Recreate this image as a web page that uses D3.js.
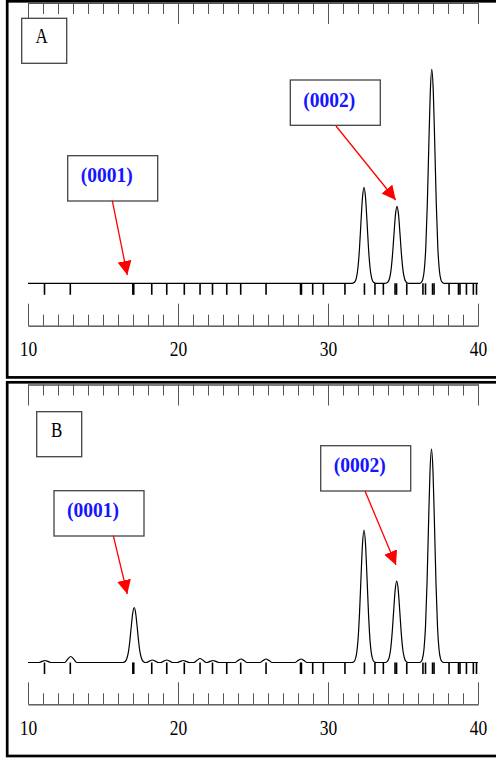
<!DOCTYPE html>
<html>
<head>
<meta charset="utf-8">
<script src="https://cdnjs.cloudflare.com/ajax/libs/d3/7.8.5/d3.min.js"></script>
<style>
body { margin: 0; background: #ffffff; }
svg { display: block; }
</style>
</head>
<body>
<div id="chart"></div>
<script>
// 2-theta range and labelled ticks
var thetaRange = [10, 40];
var tickLabels = [10, 20, 30, 40];

// reference stick pattern (2-theta, deg)
var refLines = [11.10, 12.82, 16.99, 17.05, 18.25, 19.25, 20.42, 21.47, 22.30, 23.25, 24.18,
    25.87, 28.17, 28.23, 28.98, 29.69, 31.13, 32.43, 33.13, 33.69, 34.47, 34.57, 35.25,
    36.33, 36.50, 36.97, 37.07, 38.07, 38.70, 38.80, 39.23, 39.69, 39.90];

// pattern A : [2theta, intensity a.u.]
var patternA = [
    [10, 0], [31.6, 0], [31.7, 0.4], [31.8, 1.7], [31.9, 6], [32.0, 16], [32.1, 35], [32.2, 62], [32.3, 86],
    [32.4, 96], [32.5, 86], [32.6, 62], [32.7, 35], [32.8, 16], [32.9, 6], [33.0, 1.7], [33.1, 0.4], [33.2, 0],
    [33.8, 0], [33.9, 0.3], [34.0, 1.4], [34.1, 4.8], [34.2, 13], [34.3, 28.4], [34.4, 49.4], [34.5, 68.9],
    [34.6, 77], [34.7, 68.9], [34.8, 49.4], [34.9, 28.4], [35.0, 13], [35.1, 4.8], [35.2, 1.4], [35.3, 0.3], [35.4, 0],
    [36.12, 0], [36.22, 0.9], [36.32, 3.9], [36.42, 13.5], [36.52, 36.2], [36.62, 79], [36.72, 137.4], [36.82, 191.5],
    [36.92, 214], [37.02, 191.5], [37.12, 137.4], [37.22, 79], [37.32, 36.2], [37.42, 13.5], [37.52, 3.9], [37.62, 0.9],
    [37.72, 0], [40, 0]
];

// pattern B
var patternB = [
    [10, 0], [10.73, 0], [10.93, 1.1], [11.13, 2], [11.33, 1.1], [11.53, 0],
    [12.45, 0], [12.65, 3.3], [12.85, 6], [13.05, 3.3], [13.25, 0],
    [16.28, 0], [16.38, 0.2], [16.48, 1], [16.58, 3.5], [16.68, 9.3], [16.78, 20.3], [16.88, 35.3], [16.98, 49.2],
    [17.08, 55], [17.18, 49.2], [17.28, 35.3], [17.38, 20.3], [17.48, 9.3], [17.58, 3.5], [17.68, 1], [17.78, 0.2],
    [17.89, 0], [18.09, 1.4], [18.29, 2.5], [18.49, 1.4], [18.69, 0],
    [18.85, 0], [19.05, 1.4], [19.25, 2.5], [19.45, 1.4], [19.65, 0],
    [19.95, 0], [20.15, 1.1], [20.35, 2], [20.55, 1.1], [20.75, 0],
    [21.07, 0], [21.27, 2.2], [21.47, 4], [21.67, 2.2], [21.87, 0],
    [21.93, 0], [22.13, 1.1], [22.33, 2], [22.53, 1.1], [22.73, 0],
    [23.8, 0], [24.0, 1.9], [24.2, 3.5], [24.4, 1.9], [24.6, 0],
    [25.47, 0], [25.67, 1.9], [25.87, 3.5], [26.07, 1.9], [26.27, 0],
    [27.8, 0], [28.0, 1.9], [28.2, 3.5], [28.4, 1.9], [28.6, 0],
    [31.6, 0], [31.7, 0.5], [31.8, 2.4], [31.9, 8.3], [32.0, 22.4], [32.1, 48.9], [32.2, 85.1], [32.3, 118.6],
    [32.4, 132.5], [32.5, 118.6], [32.6, 85.1], [32.7, 48.9], [32.8, 22.4], [32.9, 8.3], [33.0, 2.4], [33.1, 0.5], [33.2, 0],
    [33.78, 0], [33.88, 0.3], [33.98, 1.5], [34.08, 5.1], [34.18, 13.8], [34.28, 30.1], [34.38, 52.3], [34.48, 72.9],
    [34.58, 81.5], [34.68, 72.9], [34.78, 52.3], [34.88, 30.1], [34.98, 13.8], [35.08, 5.1], [35.18, 1.5], [35.28, 0.3], [35.38, 0],
    [36.10, 0], [36.20, 0.9], [36.30, 3.8], [36.40, 13.5], [36.50, 36.1], [36.60, 78.8], [36.70, 137.1], [36.80, 191.1],
    [36.90, 213.5], [37.00, 191.1], [37.10, 137.1], [37.20, 78.8], [37.30, 36.1], [37.40, 13.5], [37.50, 3.8], [37.60, 0.9],
    [37.70, 0], [40, 0]
];

var panelNames = ["A", "B"];
var peakLabels = ["(0001)", "(0002)"];

var width = 496, height = 758;
var serif = "'Liberation Serif', 'Times New Roman', serif";

var svg = d3.select("#chart")
    .append("svg")
    .attr("width", width)
    .attr("height", height)
    .attr("viewBox", "0 0 " + width + " " + height);

svg.append("defs").append("marker")
    .attr("id", "head")
    .attr("viewBox", "0 0 12 12")
    .attr("refX", 12)
    .attr("refY", 6)
    .attr("markerWidth", 14)
    .attr("markerHeight", 14)
    .attr("markerUnits", "userSpaceOnUse")
    .attr("orient", "auto")
    .append("path")
    .attr("d", "M0,0 L12,6 L0,12 Z")
    .attr("fill", "#ff0000");

var x = d3.scaleLinear().domain(thetaRange).range([28, 478]);

// layout of the two panels, in px
var layout = [
    { frameTop: 1.3, frameBottom: 377.4, axisTop: 3, base: 283.3, axisBottom: 325.7,
      letterBox: [21.7, 18.3], boxes: [[67.7, 155.7], [290.3, 80]],
      arrows: [[[112.3, 200.7], [127.3, 275]], [[336, 126], [395.7, 200]]] },
    { frameTop: 382.3, frameBottom: 756, axisTop: 384.5, base: 662.5, axisBottom: 704.3,
      letterBox: [36.7, 411.7], boxes: [[54, 490.7], [320.7, 445.7]],
      arrows: [[[113.3, 535.7], [127.3, 594]], [[365, 491], [396, 565]]] }
];

function drawPanel(i, pattern) {
    var L = layout[i];
    var g = svg.append("g").attr("class", "panel");

    var y = d3.scaleLinear().domain([0, 280]).range([L.base, L.base - 280]);

    // top axis: ticks hanging down
    g.append("g")
        .attr("transform", "translate(0," + L.axisTop + ")")
        .call(d3.axisBottom(x).ticks(30).tickSize(11).tickSizeOuter(0).tickFormat(""));
    g.append("g")
        .attr("transform", "translate(0," + L.axisTop + ")")
        .call(d3.axisBottom(x).tickValues(tickLabels).tickSize(21).tickSizeOuter(0).tickFormat(""));

    // bottom axis: ticks pointing up, labels below
    g.append("g")
        .attr("transform", "translate(0," + L.axisBottom + ")")
        .call(d3.axisBottom(x).ticks(30).tickSize(-11).tickSizeOuter(0).tickFormat(""));
    g.append("g")
        .attr("class", "labelled")
        .attr("transform", "translate(0," + L.axisBottom + ")")
        .call(d3.axisBottom(x).tickValues(tickLabels).tickSize(-22).tickSizeOuter(0)
            .tickFormat(d3.format("d")));

    g.selectAll(".domain, .tick line")
        .attr("stroke", "#555555")
        .attr("stroke-width", 1);
    g.selectAll(".labelled text")
        .attr("y", 0)
        .attr("dy", null)
        .attr("transform", "translate(0,30.5) scale(1,1.15)")
        .attr("font-family", serif)
        .attr("font-size", 17.5)
        .attr("fill", "#000000");

    // reference sticks
    g.selectAll(".ref")
        .data(refLines).enter().append("line")
        .attr("class", "ref")
        .attr("x1", function(d) { return x(d) })
        .attr("x2", function(d) { return x(d) })
        .attr("y1", y(0))
        .attr("y2", y(-11.5))
        .attr("stroke", "#000000")
        .attr("stroke-width", 1.6);

    var line = d3.line()
        .x(function(d) { return x(d[0]) })
        .y(function(d) { return y(d[1]) })
        .curve(d3.curveMonotoneX);

    g.append("path")
        .datum(pattern)
        .attr("d", line)
        .attr("fill", "none")
        .attr("stroke", "#000000")
        .attr("stroke-width", 1.2);

    // panel frame (right edge runs off the page)
    g.append("rect")
        .attr("x", 7.2)
        .attr("y", L.frameTop)
        .attr("width", 500)
        .attr("height", L.frameBottom - L.frameTop)
        .attr("fill", "none")
        .attr("stroke", "#000000")
        .attr("stroke-width", 2.7);

    // panel letter
    g.append("rect")
        .attr("x", L.letterBox[0]).attr("y", L.letterBox[1])
        .attr("width", 45).attr("height", 45)
        .attr("fill", "#ffffff")
        .attr("stroke", "#444444").attr("stroke-width", 1.3);
    g.append("text")
        .attr("transform", "translate(" + (L.letterBox[0] + 20) + "," + (L.letterBox[1] + 24.8) + ") scale(1,1.2)")
        .attr("text-anchor", "middle")
        .attr("font-family", serif)
        .attr("font-size", 17)
        .text(panelNames[i]);

    // peak annotations
    L.boxes.forEach(function(b, k) {
        g.append("rect")
            .attr("x", b[0]).attr("y", b[1])
            .attr("width", 90).attr("height", 45.3)
            .attr("fill", "#ffffff")
            .attr("stroke", "#444444").attr("stroke-width", 1.3);
        g.append("text")
            .attr("transform", "translate(" + (b[0] + 39) + "," + (b[1] + 26.5) + ") scale(1,1.08)")
            .attr("text-anchor", "middle")
            .attr("font-family", serif)
            .attr("font-weight", "bold")
            .attr("font-size", 19.5)
            .attr("fill", "#1515ff")
            .text(peakLabels[k]);

        var a = L.arrows[k];
        g.append("line")
            .attr("x1", a[0][0]).attr("y1", a[0][1])
            .attr("x2", a[1][0]).attr("y2", a[1][1])
            .attr("stroke", "#ff0000")
            .attr("stroke-width", 1.3)
            .attr("marker-end", "url(#head)");
    });
}

drawPanel(0, patternA);
drawPanel(1, patternB);
</script>
</body>
</html>
